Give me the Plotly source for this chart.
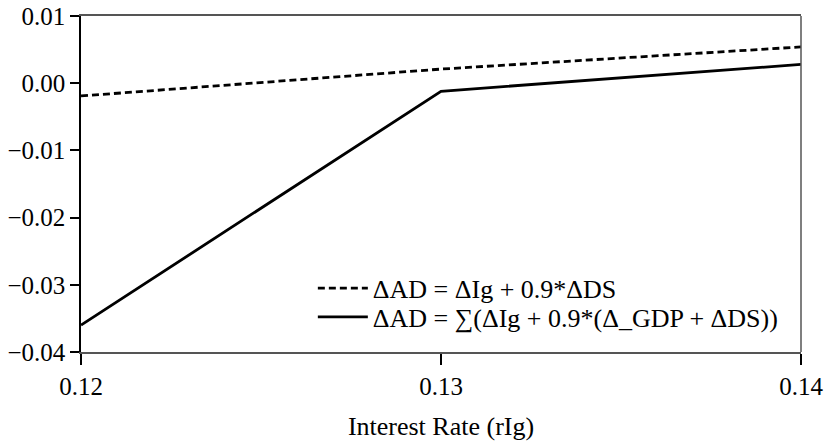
import plotly.graph_objects as go

# Interest rate grid
rates = [0.12, 0.13, 0.14]

# Change in aggregate demand, direct effect
ad_direct = [-0.0019, 0.0021, 0.0054]
# Change in aggregate demand, cumulative with GDP feedback
ad_total = [-0.0360, -0.0012, 0.0028]

y_ticks = [0.01, 0.00, -0.01, -0.02, -0.03, -0.04]
y_tick_text = ["0.01", "0.00", "\u22120.01", "\u22120.02", "\u22120.03", "\u22120.04"]
x_ticks = [0.12, 0.13, 0.14]
x_tick_text = ["0.12", "0.13", "0.14"]

FONT = "Liberation Serif"
tick_font = dict(family=FONT, size=25, color="black")
key_font = dict(family=FONT, size=26, color="black")

fig = go.Figure()
fig.add_trace(go.Scatter(
    x=rates, y=ad_direct, mode="lines",
    name="\u0394AD = \u0394Ig + 0.9*\u0394DS",
    line=dict(color="black", width=2.8, dash="7px,4px"),
    legend="legend",
))
fig.add_trace(go.Scatter(
    x=rates, y=ad_total, mode="lines",
    name="\u0394AD = \u2211(\u0394Ig + 0.9*(\u0394_GDP + \u0394DS))",
    line=dict(color="black", width=2.8),
    legend="legend2",
))

key_common = dict(xanchor="left", yanchor="middle",
                  bgcolor="rgba(0,0,0,0)", font=key_font, itemwidth=50)

fig.update_layout(
    width=830, height=445,
    margin=dict(l=81, r=29, t=16, b=93),
    paper_bgcolor="white", plot_bgcolor="white",
    font=dict(family=FONT, size=25, color="black"),
    showlegend=True,
    legend=dict(x=0.322, y=0.19, **key_common),
    legend2=dict(x=0.322, y=0.104, **key_common),
    xaxis=dict(
        range=[0.12, 0.14], tickvals=x_ticks, ticktext=x_tick_text,
        tickfont=tick_font, automargin=False,
        showgrid=False, zeroline=False,
        showline=True, linecolor="#555", linewidth=1.5, mirror=True,
        ticks="outside", ticklen=11, tickcolor="black", tickwidth=1.5,
        title=dict(text="Interest Rate (rIg)", standoff=18,
                   font=dict(family=FONT, size=26)),
    ),
    yaxis=dict(
        range=[-0.04, 0.01], tickvals=y_ticks, ticktext=y_tick_text,
        tickfont=tick_font, automargin=False,
        showgrid=False, zeroline=False,
        showline=True, linecolor="black", linewidth=1.5,
        ticks="outside", ticklen=9, tickcolor="black", tickwidth=1.5,
    ),
)

# right-hand frame edge
fig.add_shape(type="line", xref="paper", yref="paper",
              x0=1, x1=1, y0=0, y1=1,
              line=dict(color="#555", width=1.5))

fig.write_html("out.html")
